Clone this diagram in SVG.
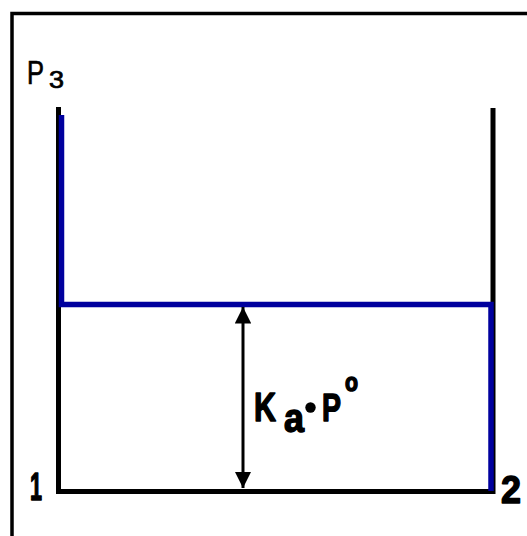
<svg xmlns="http://www.w3.org/2000/svg" width="527" height="536" viewBox="0 0 527 536">
<style>
.blk{fill:none;stroke:#000;stroke-width:5;stroke-linecap:butt;stroke-linejoin:miter}
.blu{fill:none;stroke:#00009e;stroke-width:5.5;stroke-linejoin:miter}
.t{font-family:"Liberation Sans",Arial,sans-serif;fill:#000}
.b{font-weight:bold;stroke:#000;stroke-width:1.5;stroke-linejoin:round}
.r{stroke:#000;stroke-width:0.7}
</style>
<defs>
<marker id="ah" viewBox="0 0 10 10" refX="10" refY="5" markerWidth="5.5" markerHeight="5.5" orient="auto-start-reverse" markerUnits="strokeWidth">
<path d="M0,0 L10,5 L0,10 Z" fill="#000"/>
</marker>
</defs>
<rect width="527" height="536" fill="#fff"/>
<path d="M12,540 V13.5 H540" fill="none" stroke="#000" stroke-width="3.5"/>
<g id="axis-left"><path class="blk" d="M58.5,107 V491.5 H493"/></g>
<g id="axis-right"><path class="blk" d="M493,108 V494"/></g>
<g id="connectors">
<path class="blu" d="M61.5,115 V304.5 H491 V491"/>
<line x1="243" y1="307" x2="243" y2="488" stroke="#000" stroke-width="3" marker-start="url(#ah)" marker-end="url(#ah)"/>
</g>
<g id="label-p3">
<text class="t r" x="27" y="84" font-size="33" textLength="17" lengthAdjust="spacingAndGlyphs">P</text>
<text class="t r" x="49" y="88" font-size="23" textLength="15" lengthAdjust="spacingAndGlyphs">3</text>
</g>
<g id="label-1"><text class="t b" x="30" y="500" font-size="39" textLength="12" lengthAdjust="spacingAndGlyphs">1</text></g>
<g id="label-2"><text class="t b" x="501" y="503" font-size="39" textLength="20" lengthAdjust="spacingAndGlyphs">2</text></g>
<g id="label-kp">
<text class="t b" x="254" y="421" font-size="41" textLength="22" lengthAdjust="spacingAndGlyphs">K</text>
<text class="t b" x="284" y="432" font-size="40" textLength="20" lengthAdjust="spacingAndGlyphs">a</text>
<circle cx="310.5" cy="407.5" r="5.2" fill="#000"/>
<text class="t b" x="322" y="421" font-size="39" textLength="19" lengthAdjust="spacingAndGlyphs">P</text>
<text class="t b" x="345" y="391" font-size="26" textLength="13" lengthAdjust="spacingAndGlyphs">o</text>
</g>
</svg>
